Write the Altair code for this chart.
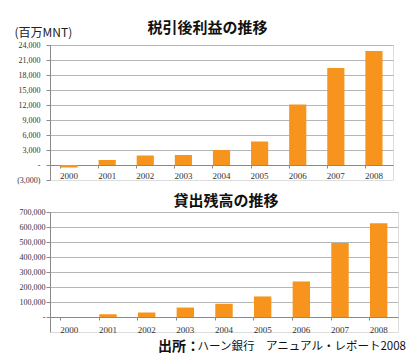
import altair as alt
import pandas as pd

years = ["2000", "2001", "2002", "2003", "2004", "2005", "2006", "2007", "2008"]
profit = [-500, 1000, 1900, 2000, 3000, 4700, 12100, 19400, 22800]
loans = [0, 18000, 30000, 63000, 88000, 137000, 237000, 493000, 625000]
profit_ticks = [-3000, 0, 3000, 6000, 9000, 12000, 15000, 18000, 21000, 24000]
loan_ticks = [0, 100000, 200000, 300000, 400000, 500000, 600000, 700000]

title_top = "税引後利益の推移"
title_bottom = "貸出残高の推移"
unit_label = "(百万MNT)"
source_bold = "出所："
source_rest = "ハーン銀行　アニュアル・レポート2008"

ORANGE = "#F7941D"
GRID = "#B5B5B5"
AXIS = "#8A8A8A"
LABEL = "#333333"
JP = "Noto Sans CJK JP"
SERIF = "Liberation Serif"

label_expr = ("datum.value == 0 ? '-' : (datum.value < 0 ? '(' + format(-datum.value, ',') + ')'"
              " : format(datum.value, ','))")

df1 = pd.DataFrame({"year": years, "value": profit})
df2 = pd.DataFrame({"year": years, "value": loans})

band = alt.Scale(paddingInner=0.55, paddingOuter=0.275)


def x_axis(pad):
    return alt.Axis(offset=-15, labelAngle=0, labelFont=SERIF, labelFontSize=9,
                    labelColor=LABEL, domainColor=AXIS, tickColor=AXIS, tickSize=3,
                    bandPosition=0, labelPadding=pad, title=None)


top = alt.Chart(df1).mark_bar(color=ORANGE).encode(
    x=alt.X("year:N", sort=years, scale=band, axis=x_axis(3)),
    y=alt.Y("value:Q",
            scale=alt.Scale(domain=[-3000, 24000], nice=False, zero=False),
            axis=alt.Axis(values=profit_ticks, labelExpr=label_expr, labelFont=SERIF,
                          labelFontSize=8, labelColor=LABEL, labelPadding=6,
                          domainColor=AXIS, tickColor=AXIS, tickSize=4,
                          gridColor=GRID,
                          gridOpacity={"condition": {"test": "datum.value < 0", "value": 0}, "value": 1},
                          title=unit_label, titleAngle=0, titleX=-36, titleY=-13,
                          titleAlign="left", titleBaseline="middle", titleFont=JP,
                          titleFontSize=12, titleFontWeight="normal", titleColor="#222222")),
    y2=alt.datum(0),
).properties(
    width=343, height=135,
    title=alt.TitleParams(title_top, font=JP, fontSize=15, fontWeight="bold",
                          color="#111111", dx=-14, offset=-10),
)

bars2 = alt.Chart(df2).mark_bar(color=ORANGE).encode(
    x=alt.X("year:N", sort=years, scale=band, axis=x_axis(5)),
    y=alt.Y("value:Q",
            scale=alt.Scale(domain=[-100000, 700000], nice=False, zero=False),
            axis=alt.Axis(values=loan_ticks, labelExpr=label_expr, labelFont=SERIF,
                          labelFontSize=8, labelColor=LABEL, labelPadding=1,
                          domainColor=AXIS, tickColor=AXIS, tickSize=4,
                          gridColor=GRID, title=None)),
    y2=alt.datum(0),
)

src1 = alt.Chart(pd.DataFrame({"t": [source_bold]})).mark_text(
    font=JP, fontSize=14, fontWeight="bold", align="left", baseline="middle", color="#111111"
).encode(x=alt.value(108), y=alt.value(135), text="t:N")

src2 = alt.Chart(pd.DataFrame({"t": [source_rest]})).mark_text(
    font=JP, fontSize=11.5, fontWeight="normal", align="right", baseline="middle", color="#111111"
).encode(x=alt.value(356), y=alt.value(135), text="t:N")

bottom = alt.layer(bars2, src1, src2).properties(
    width=348, height=120,
    title=alt.TitleParams(title_bottom, font=JP, fontSize=15, fontWeight="bold",
                          color="#111111", dx=2, offset=-1),
)

chart = alt.vconcat(top, bottom, spacing=8).properties(
    padding={"left": 5, "top": 12, "right": 2, "bottom": 2}
).configure_view(stroke=None).configure(background="white")

chart.save("out.html", embed_options={"renderer": "svg", "actions": False})
